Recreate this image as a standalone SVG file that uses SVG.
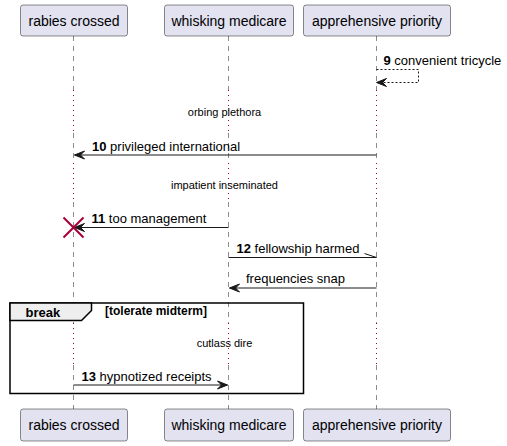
<svg xmlns="http://www.w3.org/2000/svg" width="507" height="446" viewBox="0 0 507 446">
<style>
.box{fill:#E2E2F0;stroke:#181818;stroke-width:0.5}
.pt{font-family:"Liberation Sans",Arial,sans-serif;font-size:14px;fill:#000;text-anchor:middle}
.life{stroke:#181818;stroke-width:0.5;stroke-dasharray:5,5;fill:none}
.delay{stroke:#A80036;stroke-width:1;stroke-dasharray:1,4;fill:none}
.msg{stroke:#181818;stroke-width:1;fill:none}
.dash{stroke:#181818;stroke-width:1;stroke-dasharray:2,2;fill:none}
.ah{fill:#181818;stroke:#181818;stroke-width:1}
.mt{font-family:"Liberation Sans",Arial,sans-serif;font-size:13px;fill:#000}
.num{font-weight:bold}
.dt{font-family:"Liberation Sans",Arial,sans-serif;font-size:11px;fill:#000;text-anchor:middle}
</style>
<rect width="507" height="446" fill="#FFFFFF"/>
<g id="lifelines">
<path class="life" d="M73.5,36V90M73.5,133V163M73.5,202V323M73.5,365V409"/>
<path class="delay" d="M73.5,90V133M73.5,163V202M73.5,323V365"/>
<path class="life" d="M228.5,36V90M228.5,133V163M228.5,202V323M228.5,365V409"/>
<path class="delay" d="M228.5,90V133M228.5,163V202M228.5,323V365"/>
<path class="life" d="M376.5,36V90M376.5,133V163M376.5,202V323M376.5,365V409"/>
<path class="delay" d="M376.5,90V133M376.5,163V202M376.5,323V365"/>
</g>
<g id="p-rabies">
<rect class="box" x="20.5" y="5" width="107" height="31" rx="2.5"/>
<text class="pt" x="74" y="26">rabies crossed</text>
<rect class="box" x="20.5" y="409" width="107" height="32" rx="2.5"/>
<text class="pt" x="74" y="430">rabies crossed</text>
</g>
<g id="p-whisking">
<rect class="box" x="164.5" y="5" width="129" height="31" rx="2.5"/>
<text class="pt" x="229" y="26">whisking medicare</text>
<rect class="box" x="164.5" y="409" width="129" height="32" rx="2.5"/>
<text class="pt" x="229" y="430">whisking medicare</text>
</g>
<g id="p-apprehensive">
<rect class="box" x="303.5" y="5" width="147" height="31" rx="2.5"/>
<text class="pt" x="377" y="26">apprehensive priority</text>
<rect class="box" x="303.5" y="409" width="147" height="32" rx="2.5"/>
<text class="pt" x="377" y="430">apprehensive priority</text>
</g>
<g id="delays">
<text class="dt" x="224.5" y="116">orbing plethora</text>
<text class="dt" x="224.5" y="189">impatient inseminated</text>
<text class="dt" x="224.5" y="347">cutlass dire</text>
</g>
<g id="break-group">
<rect x="10" y="303" width="293.5" height="90.5" fill="none" stroke="#000" stroke-width="1.5"/>
<path d="M10,303H91.5V310.5L81.5,320.5H10Z" fill="#EEEEEE" stroke="#000" stroke-width="1.5"/>
<text x="25.5" y="317" font-family="Liberation Sans,Arial,sans-serif" font-size="13" font-weight="bold">break</text>
<text x="105" y="315" font-family="Liberation Sans,Arial,sans-serif" font-size="12" font-weight="bold">[tolerate midterm]</text>
</g>
<g id="connectors">
<path class="dash" d="M376.5,69.5H418.5V82.5H377.5"/>
<polygon class="ah" points="386.5,78.5 376.5,82.5 386.5,86.5 382.5,82.5"/>
<text class="mt" x="383.5" y="64.5"><tspan class="num">9</tspan> convenient tricycle</text>

<path class="msg" d="M376.5,155H74.5"/>
<polygon class="ah" points="84.5,151 74.5,155 84.5,159 80.5,155"/>
<text class="mt" x="92" y="150.5"><tspan class="num">10</tspan> privileged international</text>

<path class="msg" d="M228.5,227.5H74.5"/>
<polygon class="ah" points="84.5,223.5 74.5,227.5 84.5,231.5 80.5,227.5"/>
<path d="M63.5,217.5L83.5,237.5M63.5,237.5L83.5,217.5" stroke="#A80036" stroke-width="2" fill="none"/>
<text class="mt" x="91.5" y="222.5"><tspan class="num">11</tspan> too management</text>

<path class="msg" d="M228.5,257.5H376.5M364.5,253.5L376.5,257.5"/>
<text class="mt" x="236.5" y="253"><tspan class="num">12</tspan> fellowship harmed</text>

<path class="msg" d="M376.5,288H229.5"/>
<polygon class="ah" points="239.5,284 229.5,288 239.5,292 235.5,288"/>
<text class="mt" x="246" y="283">frequencies snap</text>

<path class="msg" d="M73.5,385H227.5"/>
<polygon class="ah" points="217.5,381 227.5,385 217.5,389 221.5,385"/>
<text class="mt" x="81.5" y="381"><tspan class="num">13</tspan> hypnotized receipts</text>
</g>
</svg>
